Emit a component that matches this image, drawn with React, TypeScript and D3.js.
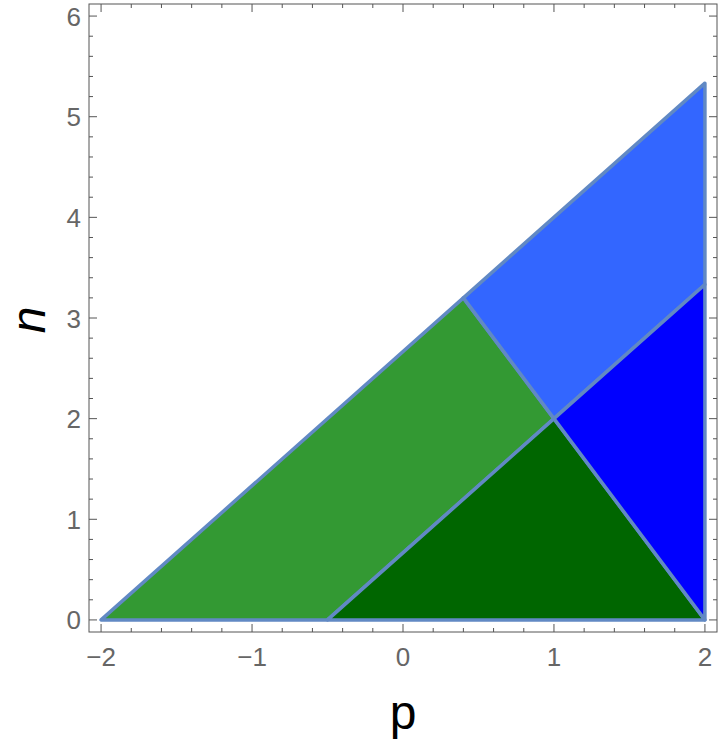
import React from "react";
import * as d3 from "d3";

// Region vertices (p, n)
const lightGreenP = [-2, -0.5, 1, 0.4];
const lightGreenN = [0, 0, 2, 3.2];
const darkGreenP = [-0.5, 2, 1];
const darkGreenN = [0, 0, 2];
const lightBlueP = [0.4, 1, 2, 2];
const lightBlueN = [3.2, 2, 3.3333, 5.3333];
const blueP = [1, 2, 2];
const blueN = [2, 0, 3.3333];

const regionColors = ["#339933", "#006600", "#3366ff", "#0000ff"];

const xTicks = [-2, -1, 0, 1, 2];
const yTicks = [0, 1, 2, 3, 4, 5, 6];

const W = 720;
const H = 742;
const L = 89, R = 717, T = 4, B = 632;

export default function App() {
  const x = d3.scaleLinear().domain([-2.08, 2.08]).range([L, R]);
  const y = d3.scaleLinear().domain([-0.12, 6.12]).range([B, T]);

  const regions = [
    [lightGreenP, lightGreenN],
    [darkGreenP, darkGreenN],
    [lightBlueP, lightBlueN],
    [blueP, blueN],
  ];
  const line = d3.line<[number, number]>().x((d) => x(d[0])).y((d) => y(d[1]));

  const xMinor = d3.range(-2.2, 2.21, 0.2).map((v) => +v.toFixed(2)).filter((v) => x(v) >= L && x(v) <= R);
  const yMinor = d3.range(0, 6.21, 0.2).map((v) => +v.toFixed(2)).filter((v) => y(v) >= T && y(v) <= B);

  const frame = "#555";
  const fmt = (v: number) => (v < 0 ? "\u2212" + Math.abs(v) : String(v));

  return (
    <svg width={W} height={H} style={{ position: "absolute", left: 0, top: 0, background: "#fff" }}>
      <rect x={0} y={0} width={W} height={H} fill="#fff" />
      {regions.map(([ps, ns], i) => (
        <path
          key={i}
          d={line(ps.map((p, k) => [p, ns[k]] as [number, number])) + "Z"}
          fill={regionColors[i]}
          stroke="#6189c4"
          strokeWidth={3.5}
          strokeLinejoin="round"
        />
      ))}
      {/* frame */}
      <rect x={L} y={T} width={R - L} height={B - T} fill="none" stroke={frame} strokeWidth={1} />
      {xMinor.map((v) => {
        const major = xTicks.some((t) => Math.abs(t - v) < 1e-6);
        const len = major ? 8 : 4;
        return (
          <g key={"x" + v}>
            <line x1={x(v)} x2={x(v)} y1={B} y2={B - len} stroke={frame} />
            <line x1={x(v)} x2={x(v)} y1={T} y2={T + len} stroke={frame} />
          </g>
        );
      })}
      {yMinor.map((v) => {
        const major = yTicks.some((t) => Math.abs(t - v) < 1e-6);
        const len = major ? 8 : 4;
        return (
          <g key={"y" + v}>
            <line x1={L} x2={L + len} y1={y(v)} y2={y(v)} stroke={frame} />
            <line x1={R} x2={R - len} y1={y(v)} y2={y(v)} stroke={frame} />
          </g>
        );
      })}
      {xTicks.map((v) => (
        <text key={"xl" + v} x={x(v)} y={666} textAnchor="middle" fontFamily="Liberation Sans, Arial, sans-serif" fontSize={26} fill="#666">
          {fmt(v)}
        </text>
      ))}
      {yTicks.map((v) => (
        <text key={"yl" + v} x={81} y={y(v) + 9.5} textAnchor="end" fontFamily="Liberation Sans, Arial, sans-serif" fontSize={26} fill="#666">
          {fmt(v)}
        </text>
      ))}
      <text x={403} y={729} textAnchor="middle" fontFamily="Liberation Sans, Arial, sans-serif" fontSize={48} fill="#000">
        p
      </text>
      <text
        transform={`translate(45,320) rotate(-90)`}
        textAnchor="middle"
        fontFamily="Liberation Sans, Arial, sans-serif"
        fontStyle="italic"
        fontSize={48}
        fill="#000"
      >
        n
      </text>
    </svg>
  );
}
